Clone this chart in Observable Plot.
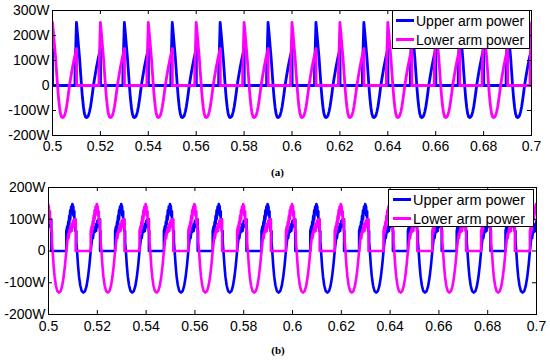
<!DOCTYPE html>
<html><head><meta charset="utf-8">
<script src="https://cdn.jsdelivr.net/npm/d3@7"></script>
<script src="https://cdn.jsdelivr.net/npm/@observablehq/plot@0.6"></script>
<style>
body{margin:0;background:#fff}
#root{position:relative;width:550px;height:360px;overflow:hidden;background:#fff;font-family:"Liberation Sans",Arial,sans-serif}
.panel{position:absolute;left:0}
.legend{position:absolute;border:1px solid #000;background:#fff;box-sizing:border-box}
.swatch{position:absolute;height:3px}
.lbl{position:absolute;transform:translateY(-50%);color:#000;white-space:nowrap;line-height:1}
.cap{position:absolute;font-family:"Liberation Serif","Times New Roman",serif;font-weight:bold;font-size:11px;transform:translate(-50%,-50%);color:#000}
</style></head><body><div id="root"></div>
<script>
// ---- tick values and labels ----
const xTicks = [0.5, 0.52, 0.54, 0.56, 0.58, 0.6, 0.62, 0.64, 0.66, 0.68, 0.7];
const xTickLabels = ["0.5","0.52","0.54","0.56","0.58","0.6","0.62","0.64","0.66","0.68","0.7"];
const yTicksA = [-200, -100, 0, 100, 200, 300];
const yTickLabelsA = ["-200W","-100W","0","100W","200W","300W"];
const yTicksB = [-200, -100, 0, 100, 200];
const yTickLabelsB = ["-200W","-100W","0","100W","200W"];
const seriesNames = ["Upper arm power", "Lower arm power"];
const seriesColors = ["#0000ff", "#ff00ff"];

// ---- panel (a): one cycle (ms from the trough, W) ----
const shapeA_ms = [-4.8, -4.8, -4.2, -3.75, -3.35, -2.9, -2.5, -2.1, -1.7, -1.25, -0.85, -0.4, 0, 0.4, 0.85, 1.25, 1.7, 2.1, 2.5, 2.9, 3.4, 4.2, 5.0, 5.85, 5.85, 15.2];
const shapeA_W  = [0, 50, 252, 205, 160, 110, 55, 0, -48, -88, -113, -126, -128, -126, -119, -105, -84, -58, -30, 0, 30, 75, 113, 148, 0, 0];
// trough times of each cycle (s)
const upperTroughsA = [0.4942, 0.5142, 0.5342, 0.5542, 0.5742, 0.5942, 0.6142, 0.6342, 0.6542, 0.6742, 0.6942];
const lowerTroughsA = [0.4842, 0.5042, 0.5242, 0.5442, 0.5642, 0.5842, 0.6042, 0.6242, 0.6442, 0.6642, 0.6842, 0.7042];

// ---- panel (b): one cycle (ms from the trough, W) ----
const shapeB_ms = [-7.0, -7.0, -6.6, -6.6, -6.2, -6.2, -5.8, -5.8, -5.4, -5.4, -5.0, -5.0, -4.5, -4.1, -4.1, -3.7, -3.7, -3.3, -3.3, -2.9, -2.9, -2.6,
                   -2.2, -1.8, -1.3, -0.7, 0, 0.7, 1.3, 1.9, 2.5, 3.0,
                   3.5, 3.9, 3.9, 4.3, 4.7, 4.7, 5.2, 5.2, 5.7, 5.7, 6.2, 6.2, 6.85, 6.85, 13.0];
const shapeB_W  = [0, 63, 78, 55, 92, 68, 110, 85, 128, 100, 140, 118, 148, 138, 112, 125, 88, 100, 63, 63, 30, 0,
                   -45, -80, -108, -126, -131, -126, -110, -82, -42, 0,
                   35, 55, 40, 63, 75, 60, 85, 63, 95, 75, 100, 80, 100, 0, 0];
const upperTroughsB = [0.4943, 0.5143, 0.5343, 0.5543, 0.5743, 0.5943, 0.6143, 0.6343, 0.6543, 0.6743, 0.6943];
const lowerTroughsB = [0.4843, 0.5043, 0.5243, 0.5443, 0.5643, 0.5843, 0.6043, 0.6243, 0.6443, 0.6643, 0.6843, 0.7043];

function build(troughs, ms, w) {
  const out = [];
  for (const t0 of troughs) for (let i = 0; i < ms.length; i++) out.push({t: t0 + ms[i] / 1000, v: w[i]});
  return out;
}

function panel({width, height, ml, mr, mt, mb, yDomain, yTicks, yTickLabels, upper, lower, xPad, sw}) {
  const fw = width - ml - mr, fh = height - mt - mb;
  return Plot.plot({
    width, height, marginLeft: ml, marginRight: mr, marginTop: mt, marginBottom: mb,
    style: {fontFamily: '"Liberation Sans", Arial, sans-serif', fontSize: "14px", color: "#000", background: "transparent", overflow: "visible"},
    x: {domain: [0.5, 0.7], label: null},
    y: {domain: yDomain, label: null},
    marks: [
      Plot.line(upper, {x: "t", y: "v", stroke: seriesColors[0], strokeWidth: sw, strokeLinejoin: "round", clip: true}),
      Plot.line(lower, {x: "t", y: "v", stroke: seriesColors[1], strokeWidth: sw, strokeLinejoin: "round", clip: true}),
      Plot.frame({stroke: "#000", strokeWidth: 1}),
      Plot.tickX(xTicks, {x: d => d, insetTop: fh - 4, stroke: "#000"}),
      Plot.tickX(xTicks, {x: d => d, insetBottom: fh - 4, stroke: "#000"}),
      Plot.tickY(yTicks, {y: d => d, insetRight: fw - 4, stroke: "#000"}),
      Plot.tickY(yTicks, {y: d => d, insetLeft: fw - 4, stroke: "#000"}),
      Plot.axisX(xTicks, {tickSize: 0, tickPadding: xPad, tickFormat: d => xTickLabels[xTicks.indexOf(d)], label: null, fontSize: 14}),
      Plot.axisY(yTicks, {tickSize: 0, tickPadding: 3, tickFormat: d => yTickLabels[yTicks.indexOf(d)], label: null, fontSize: 14})
    ]
  });
}

function legend(root, {left, top, width, height, fontSize, rowY, swX, swW, textX}) {
  const box = document.createElement("div");
  box.className = "legend";
  Object.assign(box.style, {left: left + "px", top: top + "px", width: width + "px", height: height + "px"});
  seriesNames.forEach((name, i) => {
    const sw = document.createElement("div");
    sw.className = "swatch";
    Object.assign(sw.style, {left: swX + "px", top: (rowY[i] - 1.5) + "px", width: swW + "px", background: seriesColors[i]});
    const tx = document.createElement("div");
    tx.className = "lbl";
    tx.textContent = name;
    Object.assign(tx.style, {left: textX + "px", top: rowY[i] + "px", fontSize: fontSize + "px"});
    box.appendChild(sw); box.appendChild(tx);
  });
  root.appendChild(box);
}

function caption(root, text, x, y) {
  const c = document.createElement("div");
  c.className = "cap"; c.textContent = text;
  Object.assign(c.style, {left: x + "px", top: y + "px"});
  root.appendChild(c);
}

const root = document.getElementById("root");

const pa = panel({width: 550, height: 160, ml: 52, mr: 19, mt: 10, mb: 25,
  yDomain: [-200, 300], yTicks: yTicksA, yTickLabels: yTickLabelsA,
  upper: build(upperTroughsA, shapeA_ms, shapeA_W), lower: build(lowerTroughsA, shapeA_ms, shapeA_W), xPad: 6, sw: 2.8});
pa.classList.add("panel"); pa.style.top = "0px";
root.appendChild(pa);

const pb = panel({width: 550, height: 180, ml: 48, mr: 14, mt: 27, mb: 26,
  yDomain: [-200, 200], yTicks: yTicksB, yTickLabels: yTickLabelsB,
  upper: build(upperTroughsB, shapeB_ms, shapeB_W), lower: build(lowerTroughsB, shapeB_ms, shapeB_W), xPad: 7, sw: 2.6});
pb.classList.add("panel"); pb.style.top = "160px";
root.appendChild(pb);

legend(root, {left: 392, top: 10, width: 138, height: 39, fontSize: 14, rowY: [9.5, 28.5], swX: 3, swW: 18, textX: 23});
legend(root, {left: 388, top: 189, width: 146, height: 38, fontSize: 14.5, rowY: [9.5, 28.5], swX: 4, swW: 18, textX: 24});

caption(root, "(a)", 277.5, 172);
caption(root, "(b)", 278, 350);
</script></body></html>
